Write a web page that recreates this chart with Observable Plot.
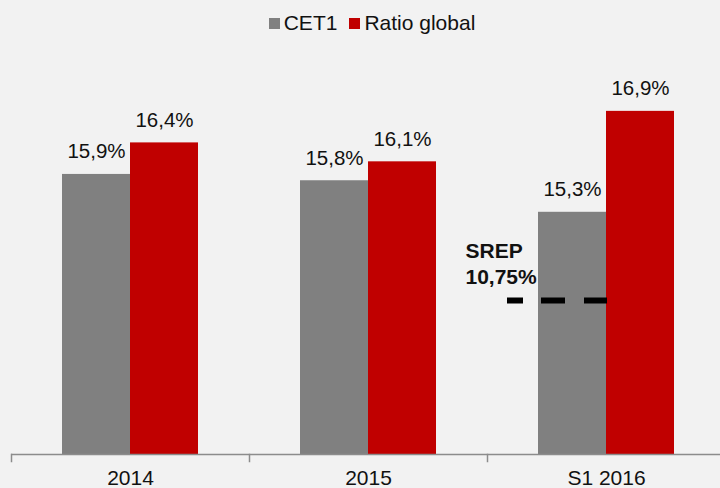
<!DOCTYPE html>
<html>
<head>
<meta charset="utf-8">
<script src="https://cdn.jsdelivr.net/npm/d3@7"></script>
<script src="https://cdn.jsdelivr.net/npm/@observablehq/plot@0.6"></script>
<style>
  html, body { margin: 0; padding: 0; background: #f2f2f2; overflow: hidden; }
  body { width: 720px; height: 488px; font-family: "Liberation Sans", Arial, sans-serif; }
  #legend { height: 44px; display: flex; justify-content: center; align-items: center; padding-left: 24px; padding-top: 2px; box-sizing: border-box; font-size: 21px; color: #111; }
  .item { display: flex; align-items: center; margin: 0 6px; }
  .sw { width: 11px; height: 11px; margin-right: 4px; }
</style>
</head>
<body>
<div id="legend"></div>
<div id="chart"></div>
<script>
const categories = ["2014", "2015", "S1 2016"];
const seriesNames = ["CET1", "Ratio global"];
const cet1 = [15.9, 15.8, 15.3];
const ratioGlobal = [16.4, 16.1, 16.9];
const seriesColors = ["#808080", "#c00000"];
const srepLabel = "SREP\n10,75%";
const srepCategory = "S1 2016";
const srepDrawnLevel = 13.9; // where the (not-to-scale) SREP marker sits on the chart's axis
const yDomain = [11.46, 17.96];

const table = [];
categories.forEach((c, i) => {
  table.push({year: c, series: seriesNames[0], value: cet1[i]});
  table.push({year: c, series: seriesNames[1], value: ratioGlobal[i]});
});

const fmt = v => v.toFixed(1).replace(".", ",") + "%";

const legend = document.getElementById("legend");
seriesNames.forEach((s, i) => {
  const it = document.createElement("div");
  it.className = "item";
  it.innerHTML = `<span class="sw" style="background:${seriesColors[i]}"></span><span>${s}</span>`;
  legend.appendChild(it);
});

const chart = Plot.plot({
  width: 720,
  height: 444,
  marginTop: 0,
  marginBottom: 34,
  marginLeft: 11,
  marginRight: -5,
  style: {background: "transparent", fontFamily: "'Liberation Sans', Arial, sans-serif"},
  fx: {domain: categories, padding: 0},
  x: {domain: seriesNames, paddingInner: 0, paddingOuter: 0.737, axis: null},
  y: {domain: yDomain, axis: null},
  color: {domain: seriesNames, range: seriesColors},
  marks: [
    Plot.barY(table, {fx: "year", x: "series", y1: yDomain[0], y2: "value", fill: "series"}),
    Plot.text(table, {fx: "year", x: "series", y: "value", text: d => fmt(d.value), lineAnchor: "bottom", dy: -16, fontSize: 20.5, fill: "#111"}),
    Plot.ruleY([yDomain[0]], {stroke: "#8c8c8c", strokeWidth: 1.5}),
    Plot.frame({anchor: "left", stroke: "#8c8c8c", strokeWidth: 1.5, insetTop: 410, insetBottom: -7}),
    Plot.ruleY([{year: srepCategory, v: srepDrawnLevel}], {fx: "year", y: "v", stroke: "#000", strokeWidth: 6, strokeDasharray: "16 18 24 19 23 200", insetLeft: 20, insetRight: 118}),
    Plot.text([{year: srepCategory, v: srepDrawnLevel}], {fx: "year", y: "v", frameAnchor: "left", text: () => srepLabel, textAnchor: "start", lineAnchor: "bottom", lineHeight: 1.2, dx: -22, dy: -17, fontSize: 21, fontWeight: "bold", fill: "#111"}),
    Plot.axisFx({anchor: "bottom", tickSize: 0, tickPadding: 16, fontSize: 21, label: null, fill: "#111"})
  ]
});
document.getElementById("chart").appendChild(chart);
</script>
</body>
</html>
